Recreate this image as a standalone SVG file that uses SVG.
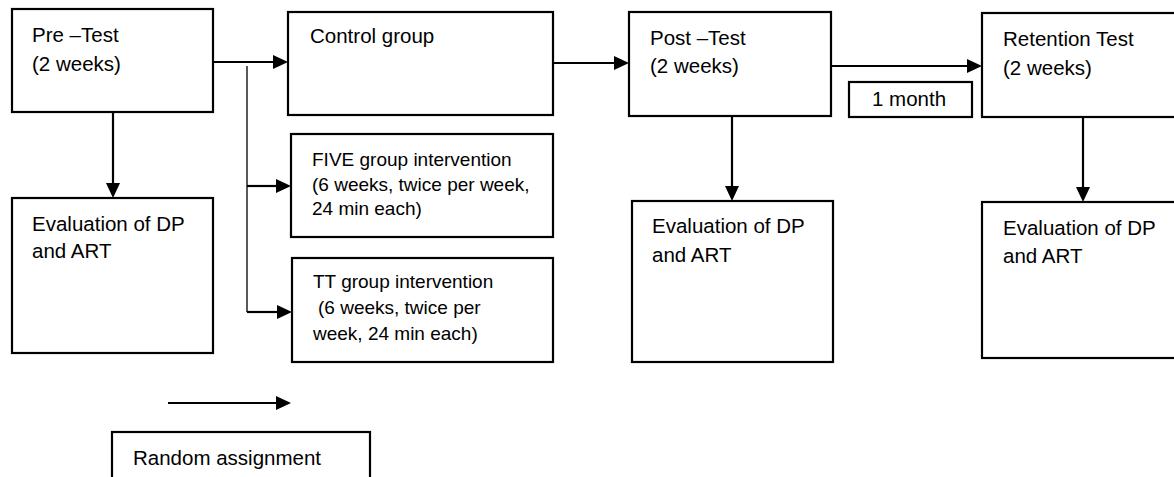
<svg xmlns="http://www.w3.org/2000/svg" width="1174" height="477" viewBox="0 0 1174 477">
<style>
.box{fill:#fff;stroke:#000;stroke-width:2.2}
.t{font-family:"Liberation Sans",Arial,sans-serif;font-size:20.5px;fill:#000}
.s{font-family:"Liberation Sans",Arial,sans-serif;font-size:19px;fill:#000}
.c{fill:none;stroke:#000;stroke-width:2.2;marker-end:url(#ah)}
.thin{fill:none;stroke:#000;stroke-width:1.3}
</style>
<defs>
<marker id="ah" viewBox="0 0 15 14" refX="2" refY="7" markerWidth="15" markerHeight="14" markerUnits="userSpaceOnUse" orient="auto">
<path d="M0,0 L15,7 L0,14 z" fill="#000"/>
</marker>
</defs>
<rect width="1174" height="477" fill="#fff"/>
<g id="connectors">
<path class="c" d="M213,62 H275"/>
<path class="thin" d="M247,66 V312"/>
<path class="c" d="M247,186 H278"/>
<path class="c" d="M247,312 H279"/>
<path class="c" d="M553,63 H616"/>
<path class="c" d="M831,66 H969"/>
<path class="c" d="M113,112 V185"/>
<path class="c" d="M732,116 V188"/>
<path class="c" d="M1083,117 V189"/>
<path class="c" d="M168,403 H278"/>
</g>
<g id="pretest">
<rect class="box" x="12" y="9" width="201" height="103"/>
<text class="t" x="32" y="42">Pre –Test</text>
<text class="t" x="32" y="71">(2 weeks)</text>
</g>
<g id="control">
<rect class="box" x="288" y="12" width="265" height="103"/>
<text class="t" x="310" y="43">Control group</text>
</g>
<g id="five">
<rect class="box" x="291" y="134" width="262" height="103"/>
<text class="s" x="312" y="166">FIVE group intervention</text>
<text class="s" x="312" y="191">(6 weeks, twice per week,</text>
<text class="s" x="312" y="215">24 min each)</text>
</g>
<g id="tt">
<rect class="box" x="292" y="258" width="261" height="104"/>
<text class="s" x="313" y="288">TT group intervention</text>
<text class="s" x="318" y="314">(6 weeks, twice per</text>
<text class="s" x="313" y="340">week, 24 min each)</text>
</g>
<g id="eval1">
<rect class="box" x="12" y="198" width="201" height="155"/>
<text class="t" x="32" y="231">Evaluation of DP</text>
<text class="t" x="32" y="258">and ART</text>
</g>
<g id="posttest">
<rect class="box" x="629" y="12" width="202" height="104"/>
<text class="t" x="650" y="45">Post –Test</text>
<text class="t" x="650" y="73">(2 weeks)</text>
</g>
<g id="eval2">
<rect class="box" x="632" y="201" width="201" height="161"/>
<text class="t" x="652" y="233">Evaluation of DP</text>
<text class="t" x="652" y="262">and ART</text>
</g>
<g id="month">
<rect class="box" x="849" y="82" width="123" height="35"/>
<text class="t" x="872" y="106">1 month</text>
</g>
<g id="retention">
<rect class="box" x="982" y="13" width="203" height="104"/>
<text class="t" x="1003" y="46">Retention Test</text>
<text class="t" x="1003" y="75">(2 weeks)</text>
</g>
<g id="eval3">
<rect class="box" x="982" y="202" width="203" height="156"/>
<text class="t" x="1003" y="235">Evaluation of DP</text>
<text class="t" x="1003" y="263">and ART</text>
</g>
<g id="random">
<rect class="box" x="112" y="432" width="258" height="50"/>
<text class="t" x="133" y="465">Random assignment</text>
</g>
</svg>
